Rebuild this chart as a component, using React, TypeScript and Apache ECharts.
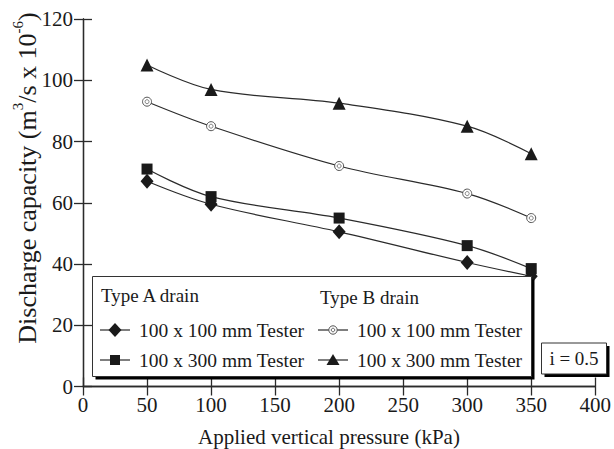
import React, { useEffect, useRef } from "react";
import * as echarts from "echarts";

// Applied vertical pressure (kPa)
const pressure = [50, 100, 200, 300, 350];
// Discharge capacity (m3/s x 10^-6)
const typeA100x100 = [67, 59.5, 50.5, 40.5, 36];
const typeA100x300 = [71, 62, 55, 46, 38.5];
const typeB100x100 = [93, 85, 72, 63, 55];
const typeB100x300 = [105, 97, 92.5, 85, 76];

const xTicks = { min: 0, max: 400, interval: 50 };
const yTicks = { min: 0, max: 120, interval: 20 };

const xTitle = "Applied vertical pressure (kPa)";
const yTitle = "{t|Discharge capacity (m}{s|3}{t|/s x 10}{s|-6}{t|)}";
const legendHeaders = ["Type A drain", "Type B drain"];
const legendLabels = ["100 x 100 mm Tester", "100 x 300 mm Tester"];
const gradientNote = "i = 0.5";

const FONT = '"Liberation Serif", "Times New Roman", Tinos, "DejaVu Serif", serif';
const INK = "#1a1a1a";
const LINE = "#2b2b2b";

const pairs = (ys: number[]) => pressure.map((x, i) => [x, ys[i]]);

function lineSeries(name: string, ys: number[], symbol: string, size: number | number[], extra: any = {}) {
  return {
    name,
    type: "line",
    data: pairs(ys),
    smooth: 0.35,
    symbol,
    symbolSize: size,
    showAllSymbol: true,
    lineStyle: { color: LINE, width: 1.2 },
    itemStyle: { color: INK, borderColor: INK, borderWidth: 0 },
    z: 3,
    ...extra,
  };
}

// legend symbols drawn as graphic shapes
function legendSymbol(kind: string, cx: number, cy: number): any[] {
  const line = {
    type: "line",
    z: 101,
    shape: { x1: cx - 15, y1: cy, x2: cx + 15, y2: cy },
    style: { stroke: LINE, lineWidth: 1.2 },
  };
  let mark: any[] = [];
  if (kind === "diamond") {
    mark = [{
      type: "polygon", z: 102,
      shape: { points: [[cx, cy - 7], [cx + 6.5, cy], [cx, cy + 7], [cx - 6.5, cy]] },
      style: { fill: INK },
    }];
  } else if (kind === "rect") {
    mark = [{ type: "rect", z: 102, shape: { x: cx - 5, y: cy - 5, width: 10, height: 10 }, style: { fill: INK } }];
  } else if (kind === "triangle") {
    mark = [{
      type: "polygon", z: 102,
      shape: { points: [[cx, cy - 6], [cx + 6.5, cy + 5], [cx - 6.5, cy + 5]] },
      style: { fill: INK },
    }];
  } else {
    mark = [
      { type: "circle", z: 102, shape: { cx, cy, r: 4.2 }, style: { fill: "#fff", stroke: "#555", lineWidth: 1 } },
      { type: "circle", z: 103, shape: { cx, cy, r: 1.8 }, style: { fill: "#fff", stroke: "#555", lineWidth: 0.9 } },
    ];
  }
  return [line, ...mark];
}

export default function App() {
  const ref = useRef<HTMLDivElement>(null);

  useEffect(() => {
    if (!ref.current) return;
    document.body.style.margin = "0";
    const chart = echarts.init(ref.current, null, { renderer: "svg" });

    const axisCommon = {
      axisLine: { show: true, lineStyle: { color: LINE, width: 1.3 } },
      axisTick: { show: true, inside: true, length: 9, lineStyle: { color: LINE, width: 1.3 } },
      splitLine: { show: false },
    };

    const legendBox = { x: 92.5, y: 276.5, w: 439, h: 100 };
    const noteBox = { x: 541.5, y: 343, w: 65, h: 31 };
    const colA = 115;
    const colB = 333;
    const rows = [330, 360];

    const graphics: any[] = [
      // axis titles
      {
        type: "text", z: 50, x: 329, y: 437,
        style: { text: xTitle, fontSize: 21, fontFamily: FONT, fill: INK, align: "center", verticalAlign: "middle" },
      },
      {
        type: "text", z: 50, x: 25, y: 178, rotation: Math.PI / 2,
        style: {
          text: yTitle, align: "center", verticalAlign: "middle",
          rich: {
            t: { fontSize: 26, fontFamily: FONT, fill: INK, lineHeight: 30, verticalAlign: "bottom" },
            s: { fontSize: 15, fontFamily: FONT, fill: INK, lineHeight: 30, verticalAlign: "top" },
          },
        },
      },
      // legend panel with drop shadow
      { type: "rect", z: 99, shape: { x: legendBox.x + 3, y: legendBox.y + 3, width: legendBox.w, height: legendBox.h }, style: { fill: "#000" } },
      { type: "rect", z: 100, shape: { x: legendBox.x, y: legendBox.y, width: legendBox.w, height: legendBox.h }, style: { fill: "#fff", stroke: "#333", lineWidth: 1 } },
      { type: "text", z: 101, x: 101, y: 295, style: { text: legendHeaders[0], fontSize: 19, fontFamily: FONT, fill: INK, verticalAlign: "middle" } },
      { type: "text", z: 101, x: 320, y: 297, style: { text: legendHeaders[1], fontSize: 19, fontFamily: FONT, fill: INK, verticalAlign: "middle" } },
      ...legendSymbol("diamond", colA, rows[0]),
      ...legendSymbol("rect", colA, rows[1]),
      ...legendSymbol("circle", colB, rows[0]),
      ...legendSymbol("triangle", colB, rows[1]),
      { type: "text", z: 101, x: 139, y: rows[0], style: { text: legendLabels[0], fontSize: 19.5, fontFamily: FONT, fill: INK, verticalAlign: "middle" } },
      { type: "text", z: 101, x: 139, y: rows[1], style: { text: legendLabels[1], fontSize: 19.5, fontFamily: FONT, fill: INK, verticalAlign: "middle" } },
      { type: "text", z: 101, x: 357, y: rows[0], style: { text: legendLabels[0], fontSize: 19.5, fontFamily: FONT, fill: INK, verticalAlign: "middle" } },
      { type: "text", z: 101, x: 357, y: rows[1], style: { text: legendLabels[1], fontSize: 19.5, fontFamily: FONT, fill: INK, verticalAlign: "middle" } },
      // gradient note with drop shadow
      { type: "rect", z: 99, shape: { x: noteBox.x + 3, y: noteBox.y + 3, width: noteBox.w, height: noteBox.h }, style: { fill: "#000" } },
      { type: "rect", z: 100, shape: { x: noteBox.x, y: noteBox.y, width: noteBox.w, height: noteBox.h }, style: { fill: "#fff", stroke: "#333", lineWidth: 1 } },
      { type: "text", z: 101, x: noteBox.x + noteBox.w / 2, y: noteBox.y + noteBox.h / 2, style: { text: gradientNote, fontSize: 19, fontFamily: FONT, fill: INK, align: "center", verticalAlign: "middle" } },
    ];

    chart.setOption({
      animation: false,
      backgroundColor: "#fff",
      textStyle: { fontFamily: FONT },
      grid: { left: 83, right: 16, top: 19, bottom: 62.5, containLabel: false },
      xAxis: [
        {
          type: "value",
          ...xTicks,
          ...axisCommon,
          axisLabel: { color: INK, fontSize: 21, fontFamily: FONT, margin: 8 },
        },
        { type: "value", position: "top", ...xTicks, ...axisCommon, axisLabel: { show: false } },
      ],
      yAxis: [
        {
          type: "value",
          ...yTicks,
          ...axisCommon,
          axisLabel: { color: INK, fontSize: 21, fontFamily: FONT, margin: 10 },
        },
        { type: "value", position: "right", ...yTicks, ...axisCommon, axisLabel: { show: false } },
      ],
      series: [
        lineSeries("Type A 100 x 100 mm Tester", typeA100x100, "diamond", [13, 15]),
        lineSeries("Type A 100 x 300 mm Tester", typeA100x300, "rect", 11),
        lineSeries("Type B 100 x 100 mm Tester", typeB100x100, "circle", 9, {
          itemStyle: { color: "#fff", borderColor: "#555", borderWidth: 1 },
        }),
        {
          name: "Type B 100 x 100 mm Tester (centre)",
          type: "scatter",
          data: pairs(typeB100x100),
          symbol: "circle",
          symbolSize: 4,
          itemStyle: { color: "#fff", borderColor: "#555", borderWidth: 0.9 },
          z: 4,
        },
        lineSeries("Type B 100 x 300 mm Tester", typeB100x300, "triangle", 13),
      ],
      graphic: graphics,
    });

    return () => chart.dispose();
  }, []);

  return <div ref={ref} style={{ width: 614, height: 449 }} />;
}
